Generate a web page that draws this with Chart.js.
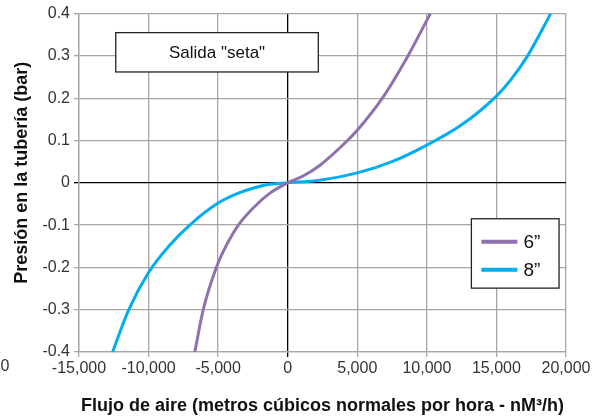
<!DOCTYPE html>
<html>
<head>
<meta charset="utf-8">
<script src="https://cdn.jsdelivr.net/npm/chart.js@4"></script>
<style>
  html, body { margin: 0; padding: 0; background: #fff; }
  #wrap { width: 602px; height: 419px; }
</style>
</head>
<body>
<div id="wrap"><canvas id="c" width="602" height="419"></canvas></div>
<script>
// ── datos ────────────────────────────────────────────────────────────
const xTicks = [-15000, -10000, -5000, 0, 5000, 10000, 15000, 20000];
const yTicks = [-0.4, -0.3, -0.2, -0.1, 0, 0.1, 0.2, 0.3, 0.4];

const flow6 = [-6680, -6070, -5130, -4300, -3550, -2500, -1300, 0, 1100, 2300, 4300, 5000, 6800, 8640, 10250];
const pres6 = [-0.4, -0.3, -0.2, -0.141, -0.1, -0.06, -0.025, 0, 0.016, 0.041, 0.1, 0.124, 0.2, 0.3, 0.4];

const flow8 = [-12590, -11420, -10000, -8500, -6940, -5000, -3500, -2500, -1200, 0, 2300, 5070, 7500, 10000, 12500, 15000, 16000, 17240, 18900];
const pres8 = [-0.4, -0.3, -0.212, -0.148, -0.097, -0.048, -0.024, -0.013, -0.003, 0, 0.006, 0.024, 0.05, 0.089, 0.137, 0.205, 0.242, 0.3, 0.4];

const seriesLabels = ['6\u201D', '8\u201D'];
const seriesColors = ['#8e72ad', '#00aeef'];
const chartTitle = 'Salida "seta"';

const FONT = 'Liberation Sans, Arial, Helvetica, sans-serif';
const GRID = '#a6a6a6';

const toPts = (xs, ys) => xs.map((x, i) => ({ x: x, y: ys[i] }));

// ── cuadro de título y leyenda dentro del área ──────────────────────
const boxes = {
  id: 'boxes',
  afterDraw(chart) {
    const ctx = chart.ctx;
    const xs = chart.scales.x, ys = chart.scales.y;
    ctx.save();

    // título "Salida seta"
    const tx0 = xs.getPixelForValue(-12360), tx1 = xs.getPixelForValue(2200);
    const ty0 = ys.getPixelForValue(0.355), ty1 = ys.getPixelForValue(0.262);
    ctx.fillStyle = '#fff';
    ctx.fillRect(tx0, ty0, tx1 - tx0, ty1 - ty0);
    ctx.strokeStyle = '#222';
    ctx.lineWidth = 1.3;
    ctx.strokeRect(tx0, ty0, tx1 - tx0, ty1 - ty0);
    ctx.fillStyle = '#111';
    ctx.font = '17px ' + FONT;
    ctx.textAlign = 'center';
    ctx.textBaseline = 'middle';
    ctx.fillText(chartTitle, (tx0 + tx1) / 2, (ty0 + ty1) / 2 + 1);

    // leyenda
    const lx0 = xs.getPixelForValue(13200), lx1 = xs.getPixelForValue(19500);
    const ly0 = ys.getPixelForValue(-0.085), ly1 = ys.getPixelForValue(-0.249);
    ctx.fillStyle = '#fff';
    ctx.fillRect(lx0, ly0, lx1 - lx0, ly1 - ly0);
    ctx.strokeStyle = '#222';
    ctx.strokeRect(lx0, ly0, lx1 - lx0, ly1 - ly0);
    ctx.textAlign = 'left';
    ctx.font = '19px ' + FONT;
    chart.data.datasets.forEach((ds, i) => {
      const y = ly0 + 23 + i * 28;
      ctx.strokeStyle = ds.borderColor;
      ctx.lineWidth = 4;
      ctx.beginPath();
      ctx.moveTo(lx0 + 10, y);
      ctx.lineTo(lx0 + 46, y);
      ctx.stroke();
      ctx.fillStyle = '#111';
      ctx.fillText(ds.label, lx0 + 52, y + 1);
    });

    // resto de etiqueta cortada en el borde izquierdo
    ctx.font = '16px ' + FONT;
    ctx.fillStyle = '#333';
    ctx.textAlign = 'right';
    ctx.fillText('00', 9.5, 367);
    ctx.restore();
  }
};

const gridColor = (c) => (c.tick && c.tick.value === 0 ? '#000' : GRID);

new Chart(document.getElementById('c'), {
  type: 'scatter',
  data: {
    datasets: [
      { label: seriesLabels[0], data: toPts(flow6, pres6), borderColor: seriesColors[0] },
      { label: seriesLabels[1], data: toPts(flow8, pres8), borderColor: seriesColors[1] }
    ].map(d => Object.assign(d, {
      showLine: true, borderWidth: 3, pointRadius: 0, pointHoverRadius: 0,
      cubicInterpolationMode: 'monotone', fill: false, clip: 4
    }))
  },
  options: {
    responsive: false,
    animation: false,
    devicePixelRatio: 1,
    layout: { padding: { left: 0, top: 13, right: 36, bottom: 0 } },
    plugins: { legend: { display: false }, tooltip: { enabled: false } },
    scales: {
      x: {
        type: 'linear', min: -15000, max: 20000,
        afterBuildTicks: (s) => { s.ticks = xTicks.map(v => ({ value: v })); },
        afterFit: (s) => { s.height = 67; },
        grid: { color: gridColor, lineWidth: 1.3, tickLength: 5, drawTicks: true },
        border: { color: GRID, width: 1.3 },
        ticks: {
          color: '#333', font: { family: FONT, size: 16 }, padding: 2, maxRotation: 0,
          callback: (v) => Number(v).toLocaleString('en-US')
        },
        title: {
          display: true, text: 'Flujo de aire (metros cúbicos normales por hora - nM³/h)',
          color: '#111', font: { family: FONT, size: 18, weight: 'bold' },
          padding: { top: 4, bottom: 2 }
        }
      },
      y: {
        type: 'linear', min: -0.4, max: 0.4,
        afterBuildTicks: (s) => { s.ticks = yTicks.map(v => ({ value: v })); },
        afterFit: (s) => { s.width = 79; },
        grid: { color: gridColor, lineWidth: 1.3, tickLength: 5, drawTicks: true },
        border: { color: GRID, width: 1.3 },
        ticks: {
          color: '#333', font: { family: FONT, size: 16 }, padding: 4,
          callback: (v) => { const r = Math.round(v * 10) / 10; return r === 0 ? '0' : r.toFixed(1); }
        },
        title: {
          display: true, text: '\u00A0\u00A0\u00A0\u00A0Presión en la tubería (bar)',
          color: '#111', font: { family: FONT, size: 18, weight: 'bold' },
          padding: { top: 11, bottom: 4 }
        }
      }
    }
  },
  plugins: [boxes]
});
</script>
</body>
</html>
